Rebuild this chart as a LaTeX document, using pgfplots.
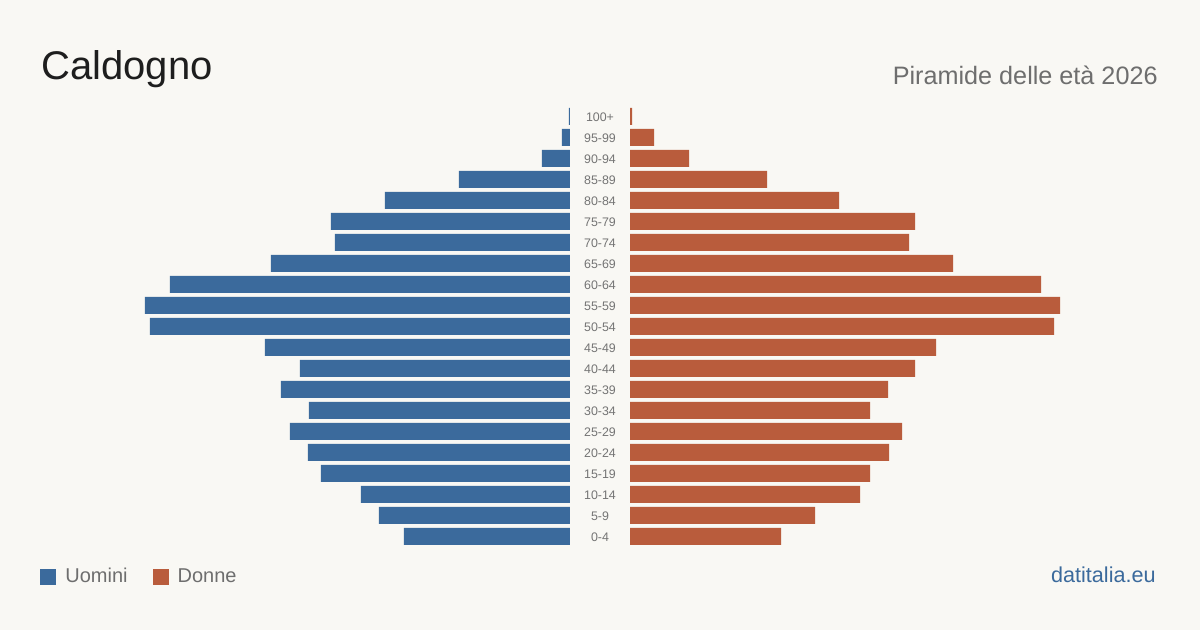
\documentclass[border=0pt]{standalone}
\usepackage{pgfplots}
\usepackage{pgfplotstable}
\pgfplotsset{compat=1.18}
\usepackage{fontspec}
\setmainfont{Liberation Sans}

\definecolor{bg}{HTML}{F9F8F4}
\definecolor{men}{HTML}{3B6A9C}
\definecolor{women}{HTML}{B95C3C}
\definecolor{ink}{HTML}{1E1E1E}
\definecolor{muted}{HTML}{6E6E6E}
\definecolor{label}{HTML}{747474}
\definecolor{link}{HTML}{3B6A9C}

% idx 0 = 0-4 ... idx 20 = 100+
\pgfplotstableread{
idx men women
0  166 151
1  191 185
2  209 230
3  249 240
4  262 259
5  280 272
6  261 240
7  289 258
8  270 285
9  305 306
10 420 424
11 425 430
12 400 411
13 299 323
14 235 279
15 239 285
16 185 209
17 111 137
18 28  59
19 8   24
20 1   2
}\pyramid

\pgfplotsset{
  pyr/.style={
    scale only axis, width=285pt, height=220.5pt,
    xmin=0, xmax=570, ymin=-0.5, ymax=20.5,
    xbar, bar width=8.5pt, bar shift=0pt,
    axis line style={draw=none}, tick style={draw=none},
    major tick length=0pt,
    xtick=\empty, clip=false,
  }
}

\begin{document}
\begin{tikzpicture}
\fill[bg] (0pt,0pt) rectangle (600pt,315pt);

\node[anchor=base west, inner sep=0, text=ink,
  font=\fontsize{20pt}{24pt}\selectfont] at (20.5pt,275pt) {Caldogno};
\node[anchor=base east, inner sep=0, text=muted,
  font=\fontsize{12.6pt}{15pt}\selectfont] at (579pt,272.5pt) {Piramide delle età 2026};
\node[anchor=base east, inner sep=0, text=link,
  font=\fontsize{10.8pt}{13pt}\selectfont] at (578pt,23.5pt) {datitalia.eu};

% men, growing to the left
\begin{axis}[pyr, x dir=reverse, at={(285pt,41.5pt)}, anchor=south east,
  ytick=\empty,
  legend columns=2,
  legend style={draw=none, fill=none, inner sep=0pt, anchor=west,
    at={(axis description cs:0.0702,-0.0680)},
    font=\fontsize{10pt}{12pt}\selectfont, text=muted,
    nodes={inner xsep=0pt, inner ysep=0pt},
    /tikz/every odd column/.append style={column sep=4.5pt},
    /tikz/every even column/.append style={column sep=12.5pt}},
  legend image code/.code={\fill[#1] (0pt,-4pt) rectangle (8pt,4pt);},
  ]
\addplot[fill=men, draw=none] table[x=men, y=idx] {\pyramid};
\addlegendentry{Uomini}
\addlegendimage{fill=women, draw=none}
\addlegendentry{Donne}
\end{axis}

% women, growing to the right; age classes in the middle
\begin{axis}[pyr, at={(315pt,41.5pt)}, anchor=south west,
  ytick={0,...,20},
  yticklabels={0-4,5-9,10-14,15-19,20-24,25-29,30-34,35-39,40-44,45-49,
    50-54,55-59,60-64,65-69,70-74,75-79,80-84,85-89,90-94,95-99,100+},
  yticklabel style={anchor=center, xshift=-15pt, yshift=-0.5pt, text=label,
    font=\fontsize{6.2pt}{7pt}\selectfont},
  ]
\addplot[fill=women, draw=none] table[x=women, y=idx] {\pyramid};
\end{axis}
\end{tikzpicture}
\end{document}
